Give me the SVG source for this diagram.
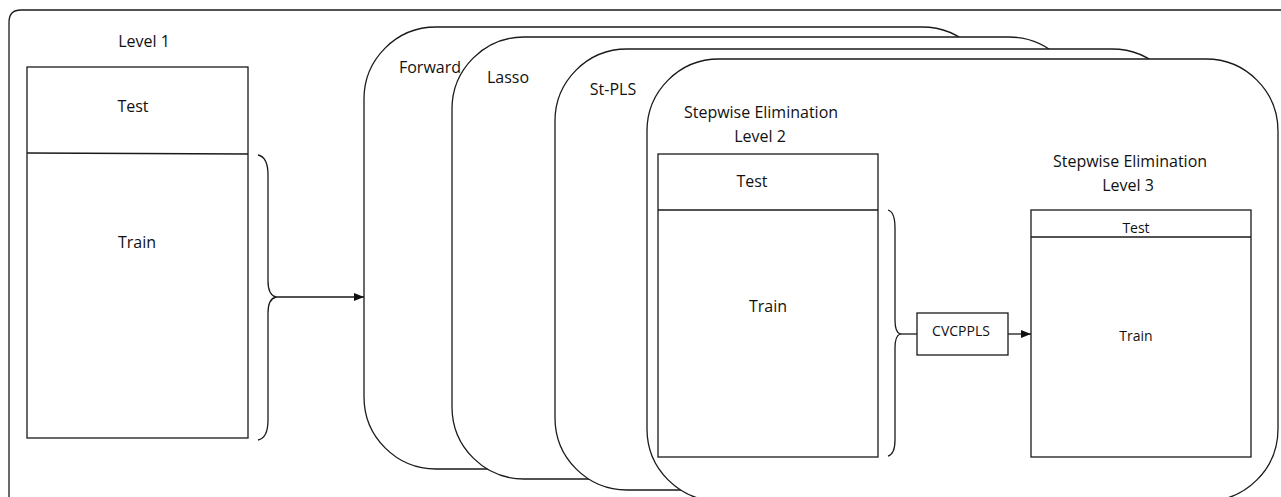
<svg xmlns="http://www.w3.org/2000/svg" width="1281" height="497" viewBox="0 0 1281 497">
<style>
.ln{fill:none;stroke:#1a1a1a;stroke-width:1.3}
.bx{fill:#fff;stroke:#1a1a1a;stroke-width:1.3}
.card{fill:#fff;stroke:#1a1a1a;stroke-width:1.3}
text{font-family:"Open Sans","Liberation Sans",sans-serif;fill:#111;text-anchor:middle}
.t16{font-size:16px}
.t14{font-size:14px}
</style>
<defs>
<marker id="ah" markerWidth="10" markerHeight="8" refX="10" refY="4" orient="auto" markerUnits="userSpaceOnUse">
<path d="M0,0 L10,4 L0,8 Z" fill="#111"/>
</marker>
</defs>
<rect width="1281" height="497" fill="#fff"/>
<g id="frame">
<path class="ln" d="M9,497 L9,22 Q9,10 21,10 L1281,10" stroke="#444"/>
</g>
<g id="level1">
<text class="t16" x="144" y="47">Level 1</text>
<rect class="bx" x="27" y="67" width="221" height="371"/>
<line class="ln" x1="27" y1="153" x2="248" y2="154"/>
<text class="t16" x="133" y="112">Test</text>
<text class="t16" x="137" y="248">Train</text>
</g>
<g id="forward">
<rect class="card" x="364" y="27" width="630" height="442" rx="72" ry="72"/>
<text class="t16" x="430" y="73">Forward</text>
</g>
<g id="lasso">
<rect class="card" x="452" y="37" width="629" height="442" rx="72" ry="72"/>
<text class="t16" x="508" y="83">Lasso</text>
</g>
<g id="stpls">
<rect class="card" x="555" y="49" width="629" height="441" rx="72" ry="72"/>
<text class="t16" x="613" y="95">St-PLS</text>
</g>
<g id="stepwise">
<rect class="card" x="647" y="59" width="631" height="442" rx="72" ry="72"/>
<text class="t16" x="761" y="118">Stepwise Elimination</text>
<text class="t16" x="760" y="142">Level 2</text>
</g>
<g id="level2">
<rect class="bx" x="658" y="154" width="220" height="303"/>
<line class="ln" x1="658" y1="210" x2="878" y2="210"/>
<text class="t16" x="752" y="187">Test</text>
<text class="t16" x="768" y="312">Train</text>
</g>
<g id="cvcppls">
<rect class="bx" x="917" y="313" width="91" height="42"/>
<text class="t14" x="961" y="336">CVCPPLS</text>
</g>
<g id="level3">
<text class="t16" x="1130" y="167">Stepwise Elimination</text>
<text class="t16" x="1128" y="191">Level 3</text>
<rect class="bx" x="1031" y="210" width="220" height="247"/>
<line class="ln" x1="1031" y1="237" x2="1251" y2="237"/>
<text class="t14" x="1136" y="233">Test</text>
<text class="t14" x="1136" y="341">Train</text>
</g>
<g id="connectors">
<path class="ln" d="M258,155 Q268,157 268,175 L268,281 Q268,295 276,297 Q268,299 268,313 L268,420 Q268,438 258,440"/>
<line class="ln" x1="276" y1="297" x2="364" y2="297" marker-end="url(#ah)"/>
<path class="ln" d="M888,210 Q895,212 895,228 L895,320 Q895,332 900,334 Q895,336 895,348 L895,440 Q895,454 888,456"/>
<line class="ln" x1="900" y1="334" x2="917" y2="334"/>
<line class="ln" x1="1008" y1="334" x2="1031" y2="334" marker-end="url(#ah)"/>
</g>
</svg>
